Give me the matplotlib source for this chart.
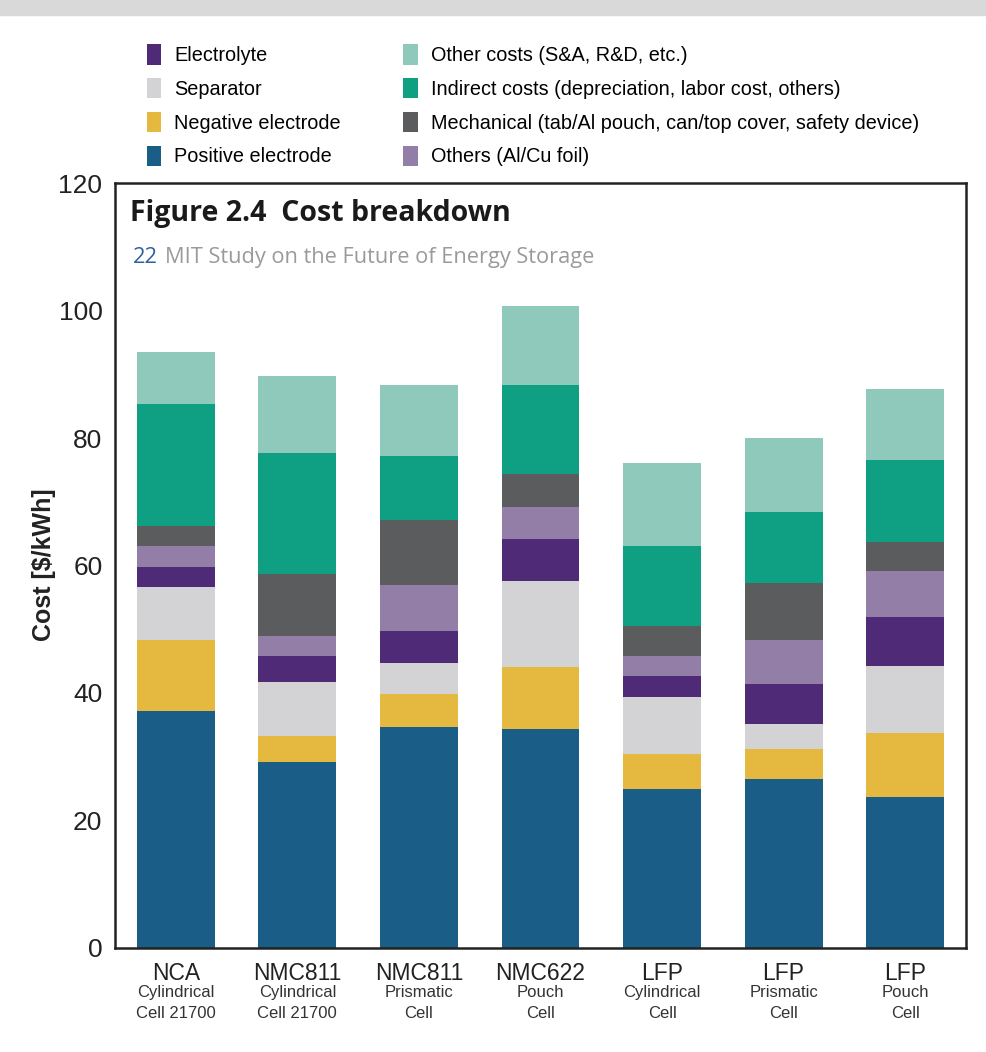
import matplotlib.pyplot as plt
import numpy as np

# Cell chemistries and formats
categories = ['NCA', 'NMC811', 'NMC811', 'NMC622', 'LFP', 'LFP', 'LFP']
formats = ['Cylindrical\nCell 21700', 'Cylindrical\nCell 21700', 'Prismatic\nCell',
           'Pouch\nCell', 'Cylindrical\nCell', 'Prismatic\nCell', 'Pouch\nCell']

# Cost components in $/kWh (bottom to top)
positive = [37.1, 29.2, 34.6, 34.3, 24.9, 26.5, 23.7]
negative = [11.2, 4.1, 5.2, 9.7, 5.5, 4.7, 10.0]
separator = [8.4, 8.5, 4.9, 13.6, 8.9, 3.9, 10.5]
electrolyte = [3.1, 4.0, 5.1, 6.5, 3.3, 6.3, 7.7]
foil = [3.2, 3.2, 7.1, 5.1, 3.2, 6.9, 7.3]
mechanical = [3.2, 9.6, 10.2, 5.2, 4.7, 8.9, 4.5]
indirect = [19.1, 19.0, 10.1, 13.9, 12.5, 11.2, 12.9]
other_costs = [8.2, 12.1, 11.1, 12.4, 13.1, 11.6, 11.1]

plt.rcParams['font.family'] = ['Liberation Sans', 'DejaVu Sans']

series = [
    ('Positive electrode', positive, '#1a5e87'),
    ('Negative electrode', negative, '#e5b940'),
    ('Separator', separator, '#d3d3d5'),
    ('Electrolyte', electrolyte, '#4f2a76'),
    ('Others (Al/Cu foil)', foil, '#927ea7'),
    ('Mechanical (tab/Al pouch, can/top cover, safety device)', mechanical, '#5b5c5e'),
    ('Indirect costs (depreciation, labor cost, others)', indirect, '#0fa083'),
    ('Other costs (S&A, R&D, etc.)', other_costs, '#8fc9bb'),
]

fig = plt.figure(figsize=(9.86, 10.52), dpi=100)
fig.add_artist(plt.Rectangle((0, 1 - 15 / 1052), 1, 15 / 1052, transform=fig.transFigure,
                             color='#d9d9d9', zorder=0))
ax = fig.add_axes([0.1166, 0.0989, 0.8631, 0.7271])

x = np.arange(len(categories))
bottom = np.zeros(len(categories))
handles = {}
for name, vals, color in series:
    bars = ax.bar(x, vals, 0.64, bottom=bottom, color=color, label=name)
    handles[name] = bars
    bottom += np.array(vals)

ax.set_xlim(-0.5, 6.5)
ax.set_ylim(0, 120)
ax.set_yticks(range(0, 121, 20))
ax.tick_params(axis='both', length=0)
ax.tick_params(axis='y', labelsize=19, pad=9, labelcolor='#222222')
ax.set_xticks(x)
ax.set_xticklabels(categories, fontsize=16.5, color='#222222')
ax.tick_params(axis='x', pad=10)
for i, f in enumerate(formats):
    ax.text(i, -0.049, f, transform=ax.get_xaxis_transform(), ha='center', va='top',
            fontsize=12, linespacing=1.45, color='#333333')

for s in ax.spines.values():
    s.set_linewidth(1.8)
    s.set_color('#222222')

fig.text(0.045, 0.463, 'Cost [$/kWh]', rotation=90, ha='center', va='center',
         fontsize=18, fontweight='bold', color='#222222')

# Title block inside the plot
ax.text(130 / 986, 0.7975, 'Figure 2.4  Cost breakdown', transform=fig.transFigure,
        ha='left', va='center', fontsize=20.5, fontweight='bold', family='Open Sans',
        color='#1a1a1a')
t22 = ax.text(133 / 986, 0.7548, '22', transform=fig.transFigure, ha='left', va='center',
              fontsize=15.7, family='Open Sans', color='#2e5f9e')
ax.annotate('MIT Study on the Future of Energy Storage', xy=(1, 0), xycoords=t22,
            xytext=(5, 0), textcoords='offset points', ha='left', va='bottom',
            fontsize=15.7, family='Open Sans', color='#9a9a9a')

order = ['Electrolyte', 'Separator', 'Negative electrode', 'Positive electrode',
         'Other costs (S&A, R&D, etc.)', 'Indirect costs (depreciation, labor cost, others)',
         'Mechanical (tab/Al pouch, can/top cover, safety device)', 'Others (Al/Cu foil)']
fig.legend([handles[k] for k in order], order, ncol=2, loc='upper left',
           bbox_to_anchor=(147 / 986, 0.958), frameon=False, fontsize=14.3,
           handlelength=0.72, handleheight=1.2, handletextpad=0.65,
           labelspacing=0.65, columnspacing=3.15, borderpad=0, borderaxespad=0)

fig.savefig('out.png', dpi=100)
